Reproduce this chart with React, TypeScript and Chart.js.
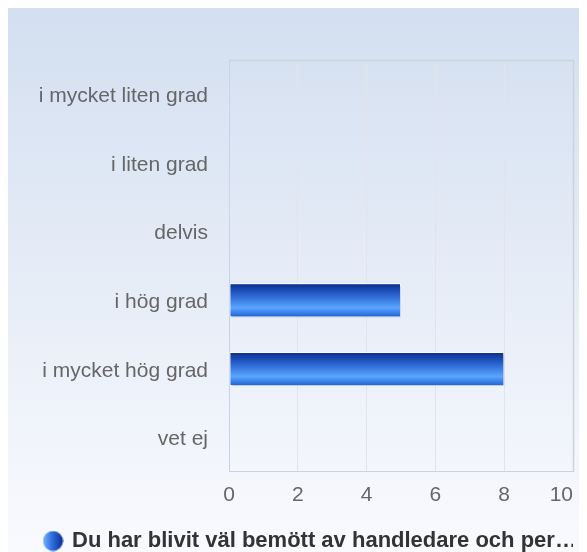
import React, { useEffect, useRef } from "react";
import { Chart, registerables } from "chart.js";

Chart.register(...registerables);

const categories = ["i mycket liten grad", "i liten grad", "delvis", "i hög grad", "i mycket hög grad", "vet ej"];
const seriesLabel = "Du har blivit väl bemött av handledare och per…";
const seriesValues = [0, 0, 0, 5, 8, 0];
const xTicks = [0, 2, 4, 6, 8, 10];

function makeLegendIcon() {
  const c = document.createElement("canvas");
  c.width = 21;
  c.height = 21;
  const ctx = c.getContext("2d")!;
  const g = ctx.createLinearGradient(0, 0, 21, 0);
  g.addColorStop(0, "#7ab8ff");
  g.addColorStop(0.45, "#2f6ee0");
  g.addColorStop(1, "#0a2a8a");
  ctx.fillStyle = g;
  ctx.beginPath();
  ctx.arc(10.5, 10.5, 10, 0, Math.PI * 2);
  ctx.fill();
  return c;
}

const bgPlugin = {
  id: "bgGrad",
  beforeDraw(chart: any) {
    const { ctx, width, height } = chart;
    const g = ctx.createLinearGradient(0, 0, 0, height);
    g.addColorStop(0, "#d3dff0");
    g.addColorStop(1, "#f9fafe");
    ctx.save();
    ctx.fillStyle = g;
    ctx.fillRect(0, 0, width, height);
    ctx.restore();
  },
  beforeDatasetsDraw(chart: any) {
    const { ctx } = chart;
    const meta = chart.getDatasetMeta(0);
    meta.data.forEach((el: any) => {
      const top = el.y - el.height / 2;
      const g = ctx.createLinearGradient(0, top, 0, top + el.height);
      g.addColorStop(0, "#082b8a");
      g.addColorStop(0.35, "#2a63cf");
      g.addColorStop(0.72, "#59a6ff");
      g.addColorStop(1, "#1c5fd2");
      el.options = Object.assign(Object.create(Object.getPrototypeOf(el.options)), el.options, {
        backgroundColor: g,
      });
    });
    ctx.save();
    ctx.shadowColor = "rgba(60,80,140,0.35)";
    ctx.shadowOffsetX = 1;
    ctx.shadowOffsetY = 2;
    ctx.shadowBlur = 2;
  },
  afterDatasetsDraw(chart: any) {
    chart.ctx.restore();
  },
  afterDraw(chart: any) {
    const { ctx, chartArea: a } = chart;
    ctx.save();
    ctx.strokeStyle = "#cdd3dc";
    ctx.lineWidth = 1.5;
    ctx.beginPath();
    ctx.moveTo(a.left, a.top + 0.5);
    ctx.lineTo(a.right + 0.5, a.top + 0.5);
    ctx.lineTo(a.right + 0.5, a.bottom);
    ctx.stroke();
    ctx.restore();
  },
};

export default function App() {
  const ref = useRef<HTMLCanvasElement>(null);
  useEffect(() => {
    if (!ref.current) return;
    document.documentElement.style.overflow = "hidden";
    const icon = makeLegendIcon();
    const chart: any = new Chart(ref.current, {
      type: "bar",
      data: {
        labels: categories,
        datasets: [
          {
            label: seriesLabel,
            data: seriesValues,
            backgroundColor: "#2a63cf",
            borderColor: "#ffffff",
            borderWidth: 1,
            borderSkipped: false,
            barPercentage: 0.62,
            categoryPercentage: 0.8,
          },
        ],
      },
      options: {
        indexAxis: "y",
        animation: false,
        responsive: false,
        layout: { padding: { top: 52, right: 6, left: 26, bottom: -10 } },
        scales: {
          x: {
            min: 0,
            max: 10,
            afterBuildTicks: (axis: any) => {
              axis.ticks = xTicks.map((v) => ({ value: v }));
            },
            afterFit: (axis: any) => {
              axis.paddingLeft = 0;
              axis.paddingRight = 0;
            },
            grid: { color: "#e2e4ea", drawTicks: false },
            border: { color: "#cdd3dc" },
            ticks: {
              padding: 2,
              color: "#666666",
              font: { family: "Liberation Sans", size: 21, lineHeight: 2.05 },
              callback: (v: any) => (v === xTicks[xTicks.length - 1] ? String(v) + "    " : String(v)),
            },
          },
          y: {
            afterFit: (axis: any) => {
              axis.width = 195;
            },
            grid: { display: false, drawTicks: false },
            border: { color: "#c7d2ec" },
            ticks: {
              padding: 21,
              labelOffset: 2,
              color: "#666666",
              font: { family: "Liberation Sans", size: 21 },
            },
          },
        },
        plugins: {
          tooltip: { enabled: false },
          legend: {
            position: "bottom",
            align: "start",
            labels: {
              usePointStyle: true,
              boxWidth: 16,
              boxHeight: 16,
              padding: 11,
              color: "#333333",
              font: { family: "Liberation Sans", size: 22, weight: "bold" },
              generateLabels: () => [
                {
                  text: seriesLabel,
                  fillStyle: "#2a63cf",
                  strokeStyle: "#2a63cf",
                  lineWidth: 0,
                  pointStyle: icon,
                  hidden: false,
                  datasetIndex: 0,
                  fontColor: "#333333",
                },
              ],
            },
          },
        },
      },
      plugins: [bgPlugin],
    });
    return () => chart.destroy();
  }, []);
  return (
    <div
      style={{
        width: 579,
        height: 544,
        background: "linear-gradient(#d3dff0, #f9fafe)",
      }}
    >
      <canvas ref={ref} width={571} height={544} style={{ display: "block" }} />
    </div>
  );
}
